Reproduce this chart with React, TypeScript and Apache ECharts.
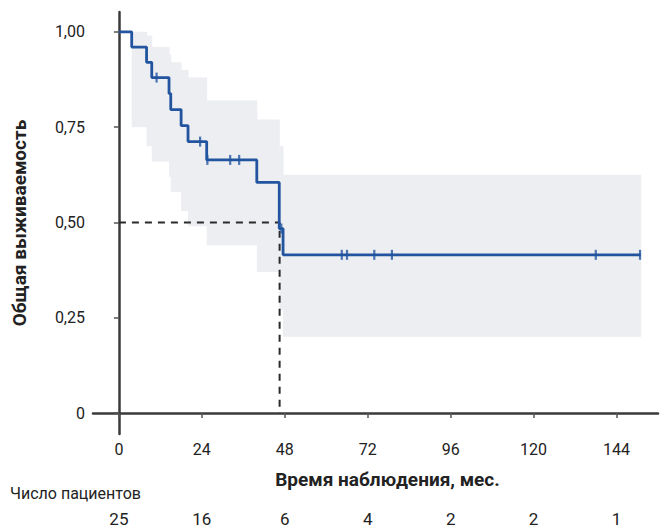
import { useEffect, useRef } from "react";
import * as echarts from "echarts";

// Kaplan–Meier estimate (months, survival)
const kmTimes = [0, 3.7, 8.0, 9.5, 14.5, 15, 18, 20, 25.4, 39.9, 46.4, 47.5, 151];
const kmSurvival = [1, 0.96, 0.92, 0.88, 0.838, 0.796, 0.754, 0.712, 0.664, 0.605, 0.484, 0.415, 0.415];

// Censored observations
const censorTimes = [10.9, 23.5, 25.6, 32.2, 34.8, 47.0, 64.5, 66.0, 73.9, 79.0, 138.0, 150.8];
const censorSurvival = [0.88, 0.712, 0.664, 0.664, 0.664, 0.484, 0.415, 0.415, 0.415, 0.415, 0.415, 0.415];

// Confidence band (piecewise constant)
const ciStart = [3.7, 8.0, 9.5, 14.5, 15, 18, 20, 25.4, 39.9, 46.4, 47.5];
const ciEnd = [8.0, 9.5, 14.5, 15, 18, 20, 25.4, 39.9, 46.4, 47.5, 151];
const ciLower = [0.75, 0.7, 0.66, 0.62, 0.58, 0.53, 0.49, 0.44, 0.37, 0.27, 0.2];
const ciUpper = [1.0, 0.99, 0.96, 0.94, 0.92, 0.9, 0.88, 0.82, 0.77, 0.7, 0.625];

// Median survival guide
const medianTime = 46.5;
const medianSurvival = 0.5;

// Axes
const xTicks = [0, 24, 48, 72, 96, 120, 144];
const yTicks = [0, 0.25, 0.5, 0.75, 1];

// Number at risk
const riskTimes = [0, 24, 48, 72, 96, 120, 144];
const riskCounts = [25, 16, 6, 4, 2, 2, 1];

const FONT = "Roboto, 'Noto Sans', sans-serif";
const BLUE = "#22549f";

export default function App() {
  const ref = useRef<HTMLDivElement>(null);

  useEffect(() => {
    if (!ref.current) return;
    const chart = echarts.init(ref.current, null, { renderer: "svg" });

    const kmData = kmTimes.map((t, i) => [t, kmSurvival[i]]);
    const censorData = censorTimes.map((t, i) => [t, censorSurvival[i]]);
    const ciData = ciStart.map((t, i) => [t, ciEnd[i], ciLower[i], ciUpper[i]]);
    const riskMap: Record<string, number> = {};
    riskTimes.forEach((t, i) => (riskMap[String(t)] = riskCounts[i]));

    chart.setOption({
      animation: false,
      textStyle: { fontFamily: FONT },
      grid: { left: 93, right: 3, top: 12, bottom: 96, containLabel: false },
      xAxis: [
        {
          type: "value",
          min: -7.5,
          max: 156,
          axisLine: { show: true, lineStyle: { color: "#3a3a3a", width: 2.5 } },
          axisTick: { show: true, customValues: xTicks, length: 5, lineStyle: { color: "#555", width: 1.5 } },
          axisLabel: {
            customValues: xTicks,
            color: "#222",
            fontSize: 16,
            fontFamily: FONT,
            margin: 7,
          },
          splitLine: { show: false },
          name: "Время наблюдения, мес.",
          nameLocation: "middle",
          nameGap: 36,
          nameTextStyle: {
            fontSize: 19,
            fontWeight: "bold",
            color: "#222",
            fontFamily: FONT,
            padding: [0, 0, 0, 24],
          },
        },
        {
          type: "value",
          min: -7.5,
          max: 156,
          position: "bottom",
          offset: 70,
          axisLine: { show: false },
          axisTick: { show: false },
          splitLine: { show: false },
          axisLabel: {
            customValues: riskTimes,
            color: "#222",
            fontSize: 17,
            fontFamily: FONT,
            margin: 6,
            formatter: (v: number) => String(riskMap[String(v)] ?? ""),
          },
        },
      ],
      yAxis: {
        type: "value",
        min: -0.055,
        max: 1.052,
        axisLine: { show: true, lineStyle: { color: "#3a3a3a", width: 2.5 } },
        axisTick: { show: true, customValues: yTicks, length: 5, lineStyle: { color: "#555", width: 1.5 } },
        axisLabel: {
          customValues: yTicks,
          color: "#222",
          fontSize: 16,
          fontFamily: FONT,
          margin: 8,
          formatter: (v: number) => (v === 0 ? "0" : v.toFixed(2).replace(".", ",")),
        },
        splitLine: { show: false },
        name: "Общая выживаемость",
        nameLocation: "middle",
        nameGap: 64,
        nameTextStyle: { fontSize: 19, fontWeight: "bold", color: "#222", fontFamily: FONT },
      },
      graphic: [
        {
          type: "text",
          left: 10,
          top: 485,
          style: { text: "Число пациентов", fontSize: 16, fontFamily: FONT, fill: "#222" },
        },
      ],
      series: [
        {
          type: "custom",
          z: 1,
          silent: true,
          data: ciData,
          encode: { x: [0, 1], y: [2, 3] },
          renderItem: (_params: any, api: any) => {
            const p0 = api.coord([api.value(0), api.value(3)]);
            const p1 = api.coord([api.value(1), api.value(2)]);
            return {
              type: "rect",
              shape: { x: p0[0], y: p0[1], width: p1[0] - p0[0] + 0.5, height: p1[1] - p0[1] },
              style: { fill: "#eceef1" },
            };
          },
        },
        {
          type: "line",
          z: 3,
          data: [
            [0, medianSurvival],
            [medianTime, medianSurvival],
            [medianTime, 0],
          ],
          symbol: "none",
          lineStyle: { color: "#2a2a2a", width: 2, type: [7, 6] },
          silent: true,
        },
        {
          type: "line",
          z: 4,
          step: "end",
          data: kmData,
          symbol: "none",
          lineStyle: { color: BLUE, width: 2.8 },
          silent: true,
        },
        {
          type: "scatter",
          z: 5,
          data: censorData,
          symbol: "rect",
          symbolSize: [2.2, 10],
          itemStyle: { color: BLUE },
          silent: true,
        },
      ],
    });

    return () => chart.dispose();
  }, []);

  return (
    <div
      ref={ref}
      style={{ position: "fixed", left: 0, top: 0, width: 661, height: 530, background: "#fff" }}
    />
  );
}
